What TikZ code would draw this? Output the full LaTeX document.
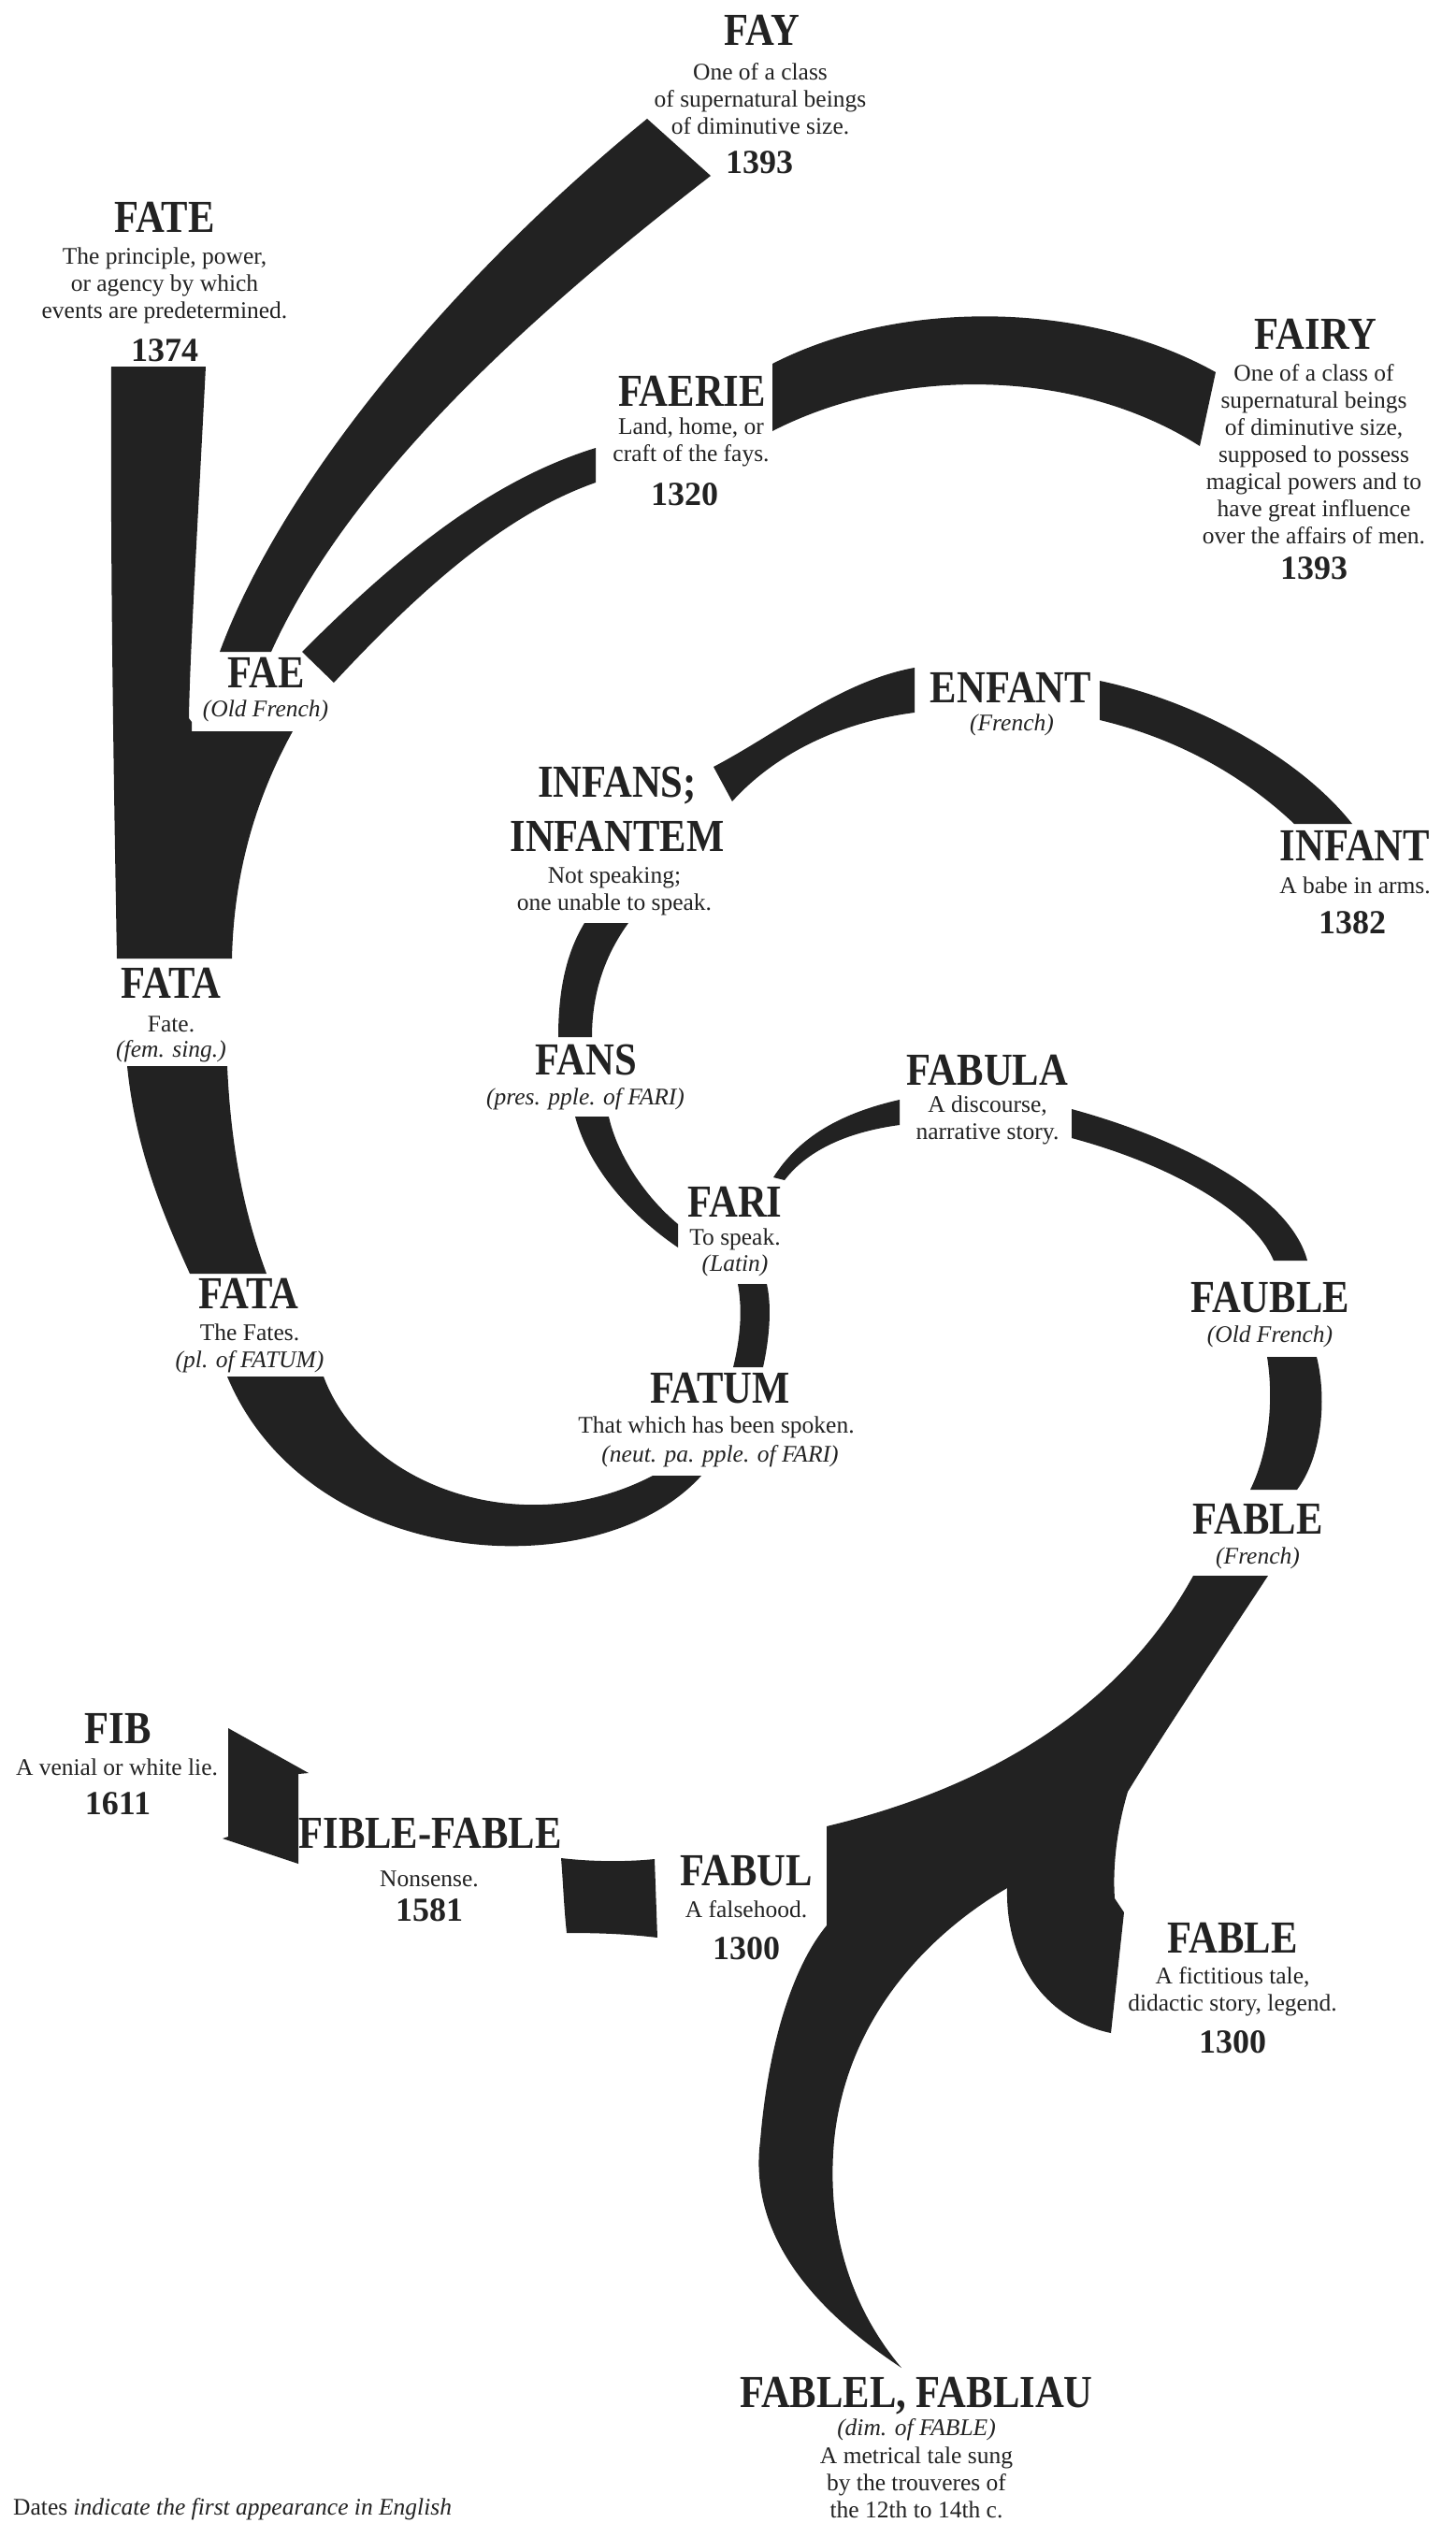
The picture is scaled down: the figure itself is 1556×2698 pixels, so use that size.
\documentclass[tikz,border=0pt]{standalone}
\usepackage{fontspec}
\setmainfont{Liberation Serif}
\newfontfamily\ttlfont{Liberation Serif}[FakeStretch=0.87]
\definecolor{ink}{HTML}{222222}
\begin{document}
\begin{tikzpicture}[x=1pt,y=-1pt,
  ttl/.style={font=\ttlfont\bfseries\fontsize{49}{49}\selectfont, anchor=base, inner sep=0pt, text=ink},
  yr/.style={font=\bfseries\fontsize{36}{36}\selectfont, anchor=base, inner sep=0pt, text=ink},
  dsc/.style={font=\fontsize{25.5}{29}\selectfont, align=center, inner sep=0pt, text=ink},
  itl/.style={font=\itshape\fontsize{25.5}{29}\selectfont, inner sep=0pt, text=ink},
  band/.style={fill=ink, draw=none}]
\useasboundingbox (0,0) rectangle (1556,2698);
\fill[white] (0,0) rectangle (1556,2698);

% ---------- bands ----------
% FATE -> FATA
\fill[band] (119,392) -- (220,392) .. controls (212,550) and (203,700) .. (202,768) -- (205,772) -- (205,782) -- (313,782) .. controls (270,860) and (250,940) .. (248,1025) -- (125,1025) .. controls (121,800) and (118,600) .. (119,392) -- cycle;
% FAE -> FAY
\fill[band] (235,697) .. controls (300,520) and (480,300) .. (692,127) -- (760,188) .. controls (550,350) and (370,520) .. (290,697) -- cycle;
% FAE -> FAERIE
\fill[band] (323,697) .. controls (420,600) and (520,515) .. (637,479) -- (637,516) .. controls (540,550) and (450,630) .. (357,730) -- cycle;
% FAERIE -> FAIRY
\fill[band] (826,389) .. controls (960,320) and (1160,320) .. (1300,398) -- (1283,477) .. controls (1150,392) and (960,392) .. (826,461) -- cycle;
% INFANS -> ENFANT
\fill[band] (763,820) .. controls (830,785) and (900,728) .. (978,714) -- (978,762) .. controls (900,772) and (830,805) .. (783,857) -- cycle;
% ENFANT -> INFANT
\fill[band] (1176,728) .. controls (1280,750) and (1390,810) .. (1446,881) -- (1384,881) .. controls (1330,830) and (1260,790) .. (1176,770) -- cycle;
% INFANS -> FANS
\fill[band] (625,987) -- (672,987) .. controls (648,1020) and (633,1060) .. (633,1109) -- (597,1109) .. controls (597,1060) and (605,1020) .. (625,987) -- cycle;
% FANS -> FARI
\fill[band] (615,1194) -- (651,1194) .. controls (660,1235) and (690,1280) .. (725,1309) -- (725,1334) .. controls (675,1300) and (630,1250) .. (615,1194) -- cycle;
% FARI -> FABULA
\fill[band] (827,1259) .. controls (855,1215) and (900,1190) .. (962,1176) -- (962,1203) .. controls (910,1210) and (865,1228) .. (839,1262) -- cycle;
% FABULA -> FAUBLE
\fill[band] (1146,1186) .. controls (1270,1220) and (1380,1280) .. (1398,1348) -- (1362,1348) .. controls (1340,1295) and (1250,1245) .. (1146,1217) -- cycle;
% FAUBLE -> FABLE
\fill[band] (1355,1451) -- (1408,1451) .. controls (1420,1500) and (1412,1560) .. (1387,1593) -- (1337,1593) .. controls (1358,1550) and (1362,1495) .. (1355,1451) -- cycle;
% FATA -> FATA
\fill[band] (136,1140) -- (243,1140) .. controls (247,1230) and (262,1300) .. (285,1362) -- (203,1362) .. controls (175,1300) and (145,1230) .. (136,1140) -- cycle;
% FATA -> FATUM
\fill[band] (243,1472) -- (346,1472) .. controls (390,1590) and (560,1650) .. (698,1578) -- (750,1578) .. controls (640,1700) and (330,1680) .. (243,1472) -- cycle;
% FARI -> FATUM
\fill[band] (789,1373) -- (820,1373) .. controls (826,1400) and (822,1435) .. (816,1462) -- (784,1462) .. controls (792,1430) and (794,1400) .. (789,1373) -- cycle;
% FIBLE-FABLE -> FIB
\fill[band] (244,1848) -- (330,1896) -- (319,1897) -- (319,1993) -- (238,1966) -- (244,1964) -- cycle;
% FABUL -> FIBLE-FABLE
\fill[band] (600,1987) .. controls (635,1991) and (670,1991) .. (700,1988) -- (703,2072) .. controls (670,2068) and (640,2067) .. (606,2067) .. controls (603,2040) and (602,2010) .. (600,1987) -- cycle;
% FABLE (French) -> FABUL, FABLE, FABLEL
\fill[band] (1276,1685) -- (1356,1685) .. controls (1300,1770) and (1240,1860) .. (1206,1916) .. controls (1193,1960) and (1190,2000) .. (1192,2030) -- (1202,2045) -- (1188,2174) .. controls (1120,2160) and (1075,2100) .. (1077,2019) .. controls (990,2070) and (905,2160) .. (892,2289) .. controls (882,2400) and (920,2480) .. (964,2532) .. controls (870,2470) and (800,2390) .. (813,2289) .. controls (822,2180) and (850,2100) .. (884,2059) -- (884,1953) .. controls (1000,1925) and (1180,1860) .. (1276,1685) -- cycle;

% ---------- labels ----------
\node[ttl] (fay) at (815,48) {FAY};
\node[dsc] (faydsc) at (813,106) {One of a class\\of supernatural beings\\of diminutive size.};
\node[yr] (fayyr) at (812,185) {1393};

\node[ttl] (fate) at (176,248) {FATE};
\node[dsc] (fatedsc) at (176,305) {The principle, power,\\or agency by which\\events are predetermined.};
\node[yr] (fateyr) at (176,386) {1374};

\node[ttl] (fairy) at (1407,373) {FAIRY};
\node[dsc] (fairydsc) at (1405,486) {One of a class of\\supernatural beings\\of diminutive size,\\supposed to possess\\magical powers and to\\have great influence\\over the affairs of men.};
\node[yr] (fairyyr) at (1405,619) {1393};

\node[ttl] (faerie) at (740,434) {FAERIE};
\node[dsc] (faeriedsc) at (739,473) {Land, home, or\\craft of the fays.};
\node[yr] (faerieyr) at (732,540) {1320};

\node[ttl] (fae) at (285,735) {FAE};
\node[itl] (faesub) at (284,760) {(Old French)};

\node[ttl] (enfant) at (1081,751) {ENFANT};
\node[itl] (enfantsub) at (1082,775) {(French)};

\node[ttl] (infans) at (660,852) {INFANS;};
\node[ttl] (infantem) at (660,910) {INFANTEM};
\node[dsc] (infdsc) at (657,953) {Not speaking;\\one unable to speak.};

\node[ttl] (infant) at (1449,920) {INFANT};
\node[dsc] (infantdsc) at (1449,947) {A babe in arms.};
\node[yr] (infantyr) at (1446,998) {1382};

\node[ttl] (fataA) at (183,1067) {FATA};
\node[dsc] (fataAdsc) at (183,1095) {Fate.};
\node[itl] (fataAsub) at (183,1124) {(fem. sing.)};

\node[ttl] (fans) at (627,1149) {FANS};
\node[itl] (fanssub) at (626,1175) {(pres. pple. of FARI)};

\node[ttl] (fabula) at (1056,1160) {FABULA};
\node[dsc] (fabuladsc) at (1056,1198) {A discourse,\\narrative story.};

\node[ttl] (fari) at (786,1301) {FARI};
\node[dsc] (faridsc) at (786,1325) {To speak.};
\node[itl] (farisub) at (786,1353) {(Latin)};

\node[ttl] (fauble) at (1358,1403) {FAUBLE};
\node[itl] (faublesub) at (1358,1429) {(Old French)};

\node[ttl] (fataB) at (266,1399) {FATA};
\node[dsc] (fataBdsc) at (267,1425) {The Fates.};
\node[itl] (fataBsub) at (267,1456) {(pl. of FATUM)};

\node[ttl] (fatum) at (770,1500) {FATUM};
\node[dsc] (fatumdsc) at (766,1526) {That which has been spoken.};
\node[itl] (fatumsub) at (770,1557) {(neut. pa. pple. of FARI)};

\node[ttl] (fableA) at (1345,1640) {FABLE};
\node[itl] (fableAsub) at (1345,1666) {(French)};

\node[ttl] (fib) at (126,1864) {FIB};
\node[dsc] (fibdsc) at (125,1890) {A venial or white lie.};
\node[yr] (fibyr) at (126,1940) {1611};

\node[ttl] (fible) at (460,1976) {FIBLE-FABLE};
\node[dsc] (fibledsc) at (459,2009) {Nonsense.};
\node[yr] (fibleyr) at (459,2054) {1581};

\node[ttl] (fabul) at (798,2016) {FABUL};
\node[dsc] (fabuldsc) at (798,2042) {A falsehood.};
\node[yr] (fabulyr) at (798,2095) {1300};

\node[ttl] (fableB) at (1318,2088) {FABLE};
\node[dsc] (fableBdsc) at (1318,2130) {A fictitious tale,\\didactic story, legend.};
\node[yr] (fableByr) at (1318,2195) {1300};

\node[ttl] (fablel) at (980,2574) {FABLEL, FABLIAU};
\node[itl] (fablelsub) at (980,2598) {(dim. of FABLE)};
\node[dsc] (fableldsc) at (980,2655) {A metrical tale sung\\by the trouveres of\\the 12th to 14th c.};

\node[anchor=base west, font=\fontsize{25.5}{29}\selectfont, inner sep=0pt, text=ink] (note) at (14,2689) {Dates \textit{indicate the first appearance in English}};
\end{tikzpicture}
\end{document}
